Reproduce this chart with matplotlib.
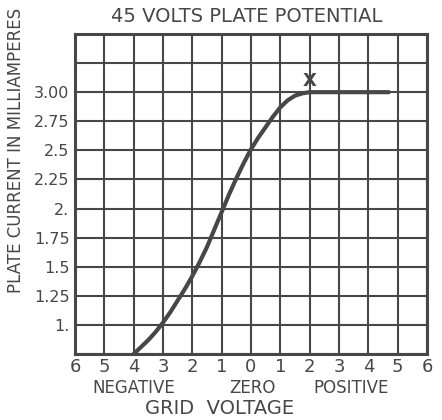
import numpy as np
import matplotlib.pyplot as plt

# Plate current vs grid voltage, 45 V on the plate
grid_volts = [-4, -3.75, -3.5, -3.25, -3, -2.75, -2.5, -2.25, -2, -1.75, -1.5, -1.25, -1,
              -0.75, -0.5, -0.25, 0, 0.25, 0.5, 0.75, 1, 1.25, 1.5, 1.75, 2, 4.7]
plate_ma = [0.75, 0.81, 0.87, 0.94, 1.02, 1.11, 1.21, 1.31, 1.42, 1.54, 1.67, 1.82, 1.97,
            2.12, 2.26, 2.39, 2.51, 2.61, 2.70, 2.79, 2.87, 2.93, 2.97, 2.99, 3.00, 3.00]

x_ticks = list(range(-6, 7))
x_labels = [str(abs(v)) for v in x_ticks]
y_ticks = [0.75, 1.0, 1.25, 1.5, 1.75, 2.0, 2.25, 2.5, 2.75, 3.0, 3.25, 3.5]
y_labels = ["", "1.", "1.25", "1.5", "1.75", "2.", "2.25", "2.5", "2.75", "3.00", "", ""]

ink = "#474747"

fig = plt.figure(figsize=(4.42, 4.2), dpi=100)
ax = fig.add_axes([75 / 442, 1 - 354 / 420, 352 / 442, 320 / 420])

ax.plot(grid_volts, plate_ma, color=ink, lw=3.0, solid_capstyle="round",
        solid_joinstyle="round", zorder=3)
ax.text(2, 3.1, "X", color=ink, fontsize=13, fontweight="bold", ha="center", va="center")

ax.set_xlim(-6, 6)
ax.set_ylim(0.75, 3.5)
ax.set_xticks(x_ticks)
ax.set_xticklabels(x_labels, fontsize=13)
ax.set_yticks(y_ticks)
ax.set_yticklabels(y_labels, fontsize=11.5)
ax.tick_params(length=0, colors=ink)
ax.tick_params(axis="x", pad=3)
ax.tick_params(axis="y", pad=4)
ax.grid(True, color=ink, lw=1.5)
for side in ax.spines.values():
    side.set_color(ink)
    side.set_linewidth(2.2)

fig.text(247 / 442, 1 - 17 / 420, "45 VOLTS PLATE POTENTIAL", fontsize=14,
         color=ink, ha="center", va="center")
fig.text(16 / 442, 1 - 150 / 420, "PLATE CURRENT IN MILLIAMPERES", fontsize=12,
         color=ink, rotation=90, ha="center", va="center")
fig.text(134 / 442, 1 - 388 / 420, "NEGATIVE", fontsize=12, color=ink, ha="center", va="center")
fig.text(252 / 442, 1 - 388 / 420, "ZERO", fontsize=12, color=ink, ha="center", va="center")
fig.text(351 / 442, 1 - 388 / 420, "POSITIVE", fontsize=12, color=ink, ha="center", va="center")
fig.text(220 / 442, 1 - 408 / 420, "GRID  VOLTAGE", fontsize=14, color=ink, ha="center", va="center")

fig.savefig("out.png", dpi=100)
